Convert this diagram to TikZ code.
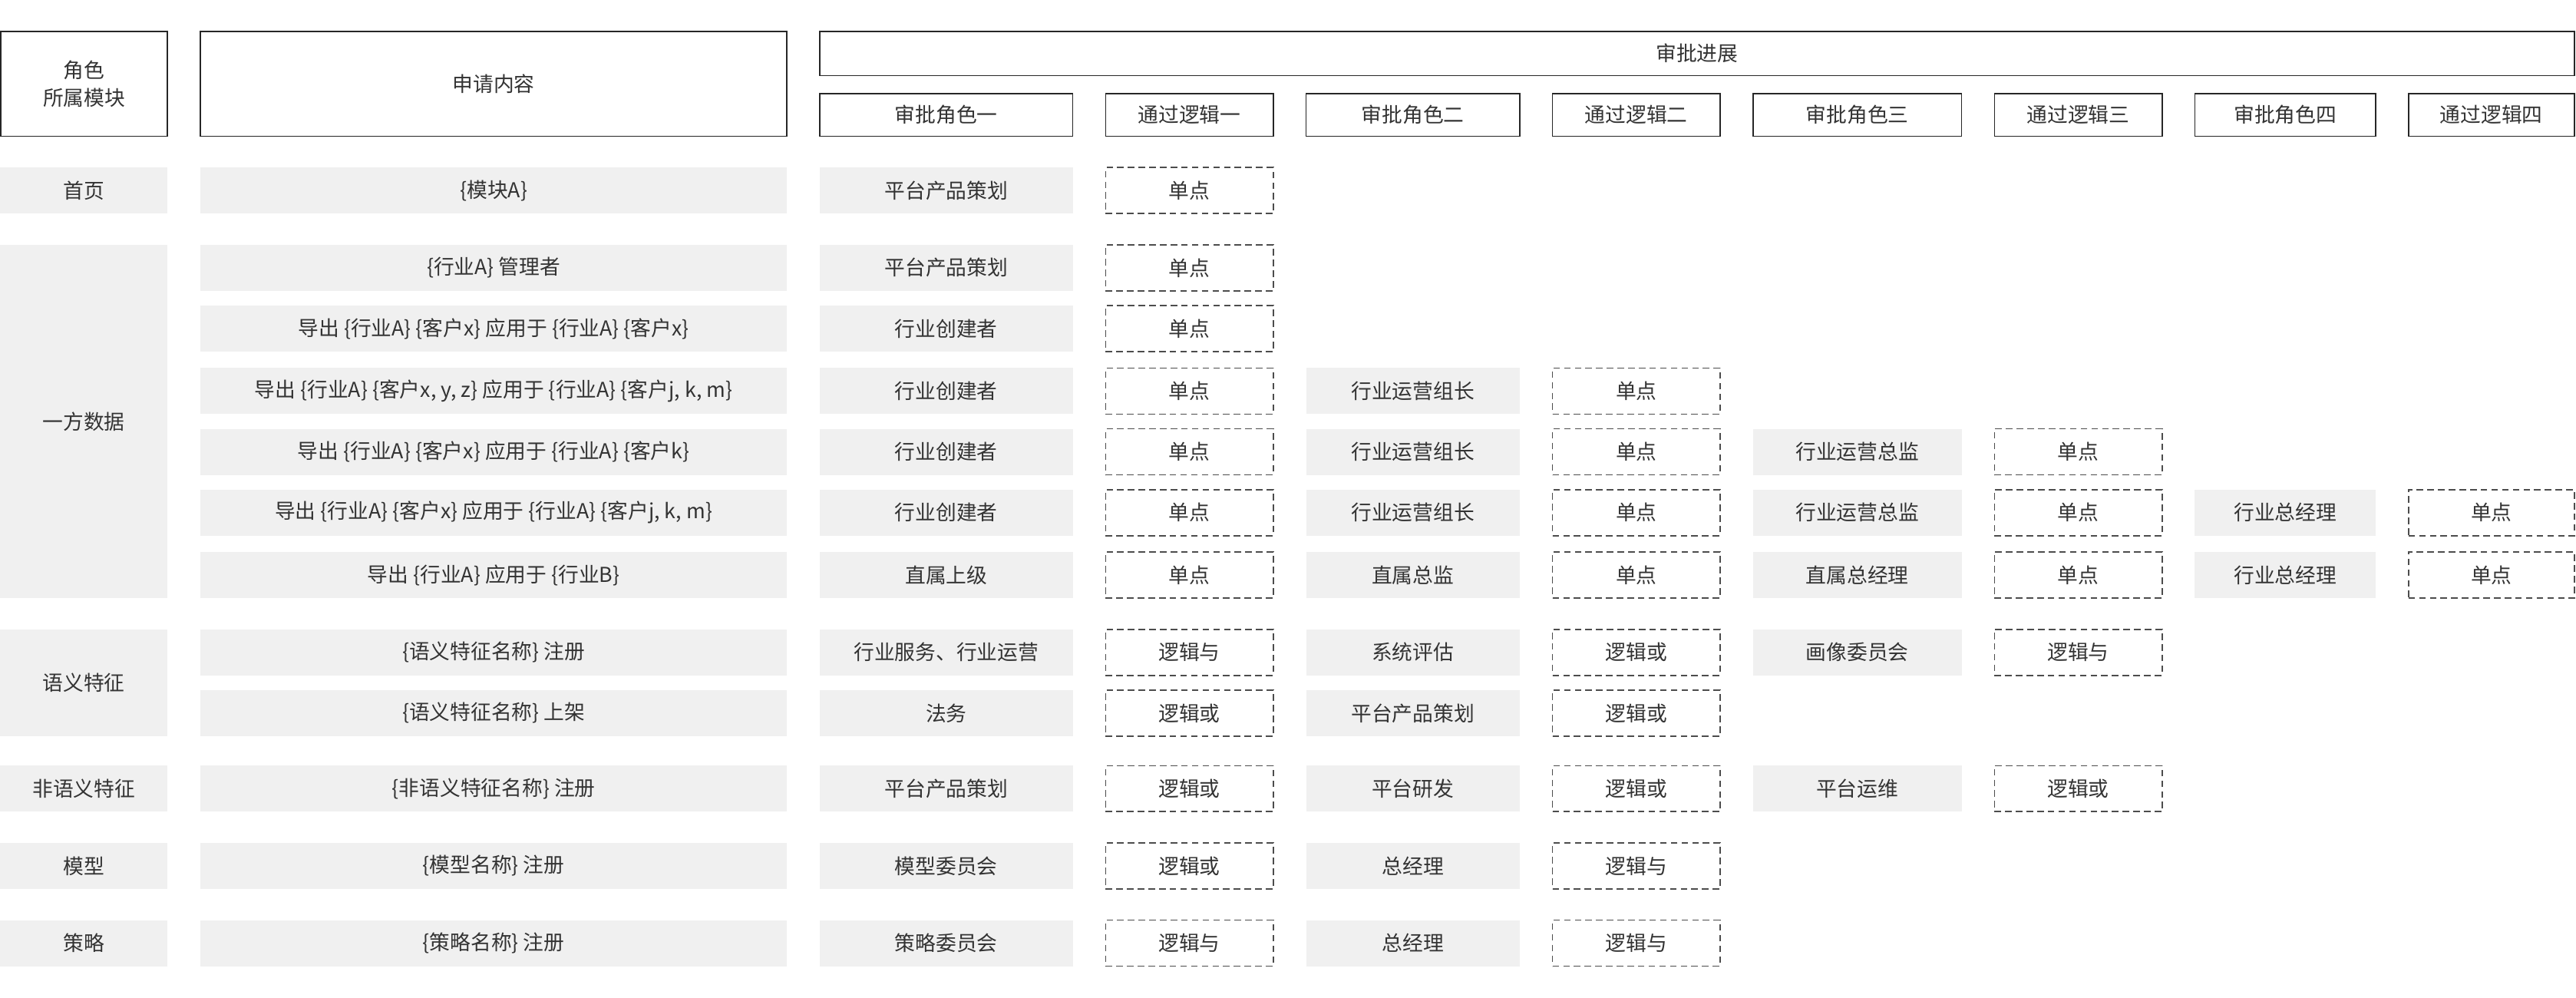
\documentclass[tikz,border=0pt]{standalone}
\usepackage{fontspec}
\newfontfamily\cjk{Noto Sans CJK SC}
\begin{document}
\begin{tikzpicture}[x=1pt,y=-1pt,
  every node/.style={font=\cjk\fontsize{12.5}{15}\selectfont, text=black!80, inner sep=0pt},
  hdr/.style={draw=black!85, line width=0.8pt},
  gry/.style={fill=black!6, draw=none},
  dsh/.style={draw=black!70, dash pattern=on 4pt off 2.5pt, line width=0.8pt}]
\useasboundingbox (0,0) rectangle (1568,607);
\newcommand\cellbox[7]{\node[#1, minimum width={(#3)-(#2)}, minimum height={(#5)-(#4)}] (#6) at ({((#2)+(#3))/2},{((#4)+(#5))/2}) {#7};}
% headers
\cellbox{hdr}{0.5}{102}{19}{83}{hA}{\shortstack{角色\\[2pt]所属模块}}
\cellbox{hdr}{122}{479}{19}{83}{hB}{申请内容}
\cellbox{hdr}{499}{1567}{19}{46}{hC}{审批进展}
\cellbox{hdr}{499}{653}{57}{83}{h1}{审批角色一}
\cellbox{hdr}{673}{775}{57}{83}{h2}{通过逻辑一}
\cellbox{hdr}{795}{925}{57}{83}{h3}{审批角色二}
\cellbox{hdr}{945}{1047}{57}{83}{h4}{通过逻辑二}
\cellbox{hdr}{1067}{1194}{57}{83}{h5}{审批角色三}
\cellbox{hdr}{1214}{1316}{57}{83}{h6}{通过逻辑三}
\cellbox{hdr}{1336}{1446}{57}{83}{h7}{审批角色四}
\cellbox{hdr}{1466}{1567}{57}{83}{h8}{通过逻辑四}
% column A
\cellbox{gry}{0}{102}{102}{130}{a1}{首页}
\cellbox{gry}{0}{102}{149}{364}{a2}{一方数据}
\cellbox{gry}{0}{102}{383}{448}{a3}{语义特征}
\cellbox{gry}{0}{102}{466}{494}{a4}{非语义特征}
\cellbox{gry}{0}{102}{513}{541}{a5}{模型}
\cellbox{gry}{0}{102}{560}{588}{a6}{策略}
% generic
\newcommand\B[3]{\cellbox{gry}{122}{479}{#1-14}{#1+14}{#2}{#3}}
\newcommand\Ra[3]{\cellbox{gry}{499}{653}{#1-14}{#1+14}{#2}{#3}}
\newcommand\La[3]{\cellbox{dsh}{673}{775}{#1-14}{#1+14}{#2}{#3}}
\newcommand\Rb[3]{\cellbox{gry}{795}{925}{#1-14}{#1+14}{#2}{#3}}
\newcommand\Lb[3]{\cellbox{dsh}{945}{1047}{#1-14}{#1+14}{#2}{#3}}
\newcommand\Rc[3]{\cellbox{gry}{1067}{1194}{#1-14}{#1+14}{#2}{#3}}
\newcommand\Lc[3]{\cellbox{dsh}{1214}{1316}{#1-14}{#1+14}{#2}{#3}}
\newcommand\Rd[3]{\cellbox{gry}{1336}{1446}{#1-14}{#1+14}{#2}{#3}}
\newcommand\Ld[3]{\cellbox{dsh}{1466}{1567}{#1-14}{#1+14}{#2}{#3}}
\B{116}{b1}{\{模块A\}} \Ra{116}{r1a}{平台产品策划} \La{116}{l1a}{单点}
\B{163}{b2}{\{行业A\} 管理者} \Ra{163}{r2a}{平台产品策划} \La{163}{l2a}{单点}
\B{200}{b3}{导出 \{行业A\} \{客户x\} 应用于 \{行业A\} \{客户x\}} \Ra{200}{r3a}{行业创建者} \La{200}{l3a}{单点}
\B{238}{b4}{导出 \{行业A\} \{客户x, y, z\} 应用于 \{行业A\} \{客户j, k, m\}} \Ra{238}{r4a}{行业创建者} \La{238}{l4a}{单点}
\Rb{238}{r4b}{行业运营组长} \Lb{238}{l4b}{单点}
\B{275}{b5}{导出 \{行业A\} \{客户x\} 应用于 \{行业A\} \{客户k\}} \Ra{275}{r5a}{行业创建者} \La{275}{l5a}{单点}
\Rb{275}{r5b}{行业运营组长} \Lb{275}{l5b}{单点} \Rc{275}{r5c}{行业运营总监} \Lc{275}{l5c}{单点}
\B{312}{b6}{导出 \{行业A\} \{客户x\} 应用于 \{行业A\} \{客户j, k, m\}} \Ra{312}{r6a}{行业创建者} \La{312}{l6a}{单点}
\Rb{312}{r6b}{行业运营组长} \Lb{312}{l6b}{单点} \Rc{312}{r6c}{行业运营总监} \Lc{312}{l6c}{单点}
\Rd{312}{r6d}{行业总经理} \Ld{312}{l6d}{单点}
\B{350}{b7}{导出 \{行业A\} 应用于 \{行业B\}} \Ra{350}{r7a}{直属上级} \La{350}{l7a}{单点}
\Rb{350}{r7b}{直属总监} \Lb{350}{l7b}{单点} \Rc{350}{r7c}{直属总经理} \Lc{350}{l7c}{单点}
\Rd{350}{r7d}{行业总经理} \Ld{350}{l7d}{单点}
\B{397}{b8}{\{语义特征名称\} 注册} \Ra{397}{r8a}{行业服务、行业运营} \La{397}{l8a}{逻辑与}
\Rb{397}{r8b}{系统评估} \Lb{397}{l8b}{逻辑或} \Rc{397}{r8c}{画像委员会} \Lc{397}{l8c}{逻辑与}
\B{434}{b9}{\{语义特征名称\} 上架} \Ra{434}{r9a}{法务} \La{434}{l9a}{逻辑或}
\Rb{434}{r9b}{平台产品策划} \Lb{434}{l9b}{逻辑或}
\B{480}{b10}{\{非语义特征名称\} 注册} \Ra{480}{r10a}{平台产品策划} \La{480}{l10a}{逻辑或}
\Rb{480}{r10b}{平台研发} \Lb{480}{l10b}{逻辑或} \Rc{480}{r10c}{平台运维} \Lc{480}{l10c}{逻辑或}
\B{527}{b11}{\{模型名称\} 注册} \Ra{527}{r11a}{模型委员会} \La{527}{l11a}{逻辑或}
\Rb{527}{r11b}{总经理} \Lb{527}{l11b}{逻辑与}
\B{574}{b12}{\{策略名称\} 注册} \Ra{574}{r12a}{策略委员会} \La{574}{l12a}{逻辑与}
\Rb{574}{r12b}{总经理} \Lb{574}{l12b}{逻辑与}
\end{tikzpicture}
\end{document}
